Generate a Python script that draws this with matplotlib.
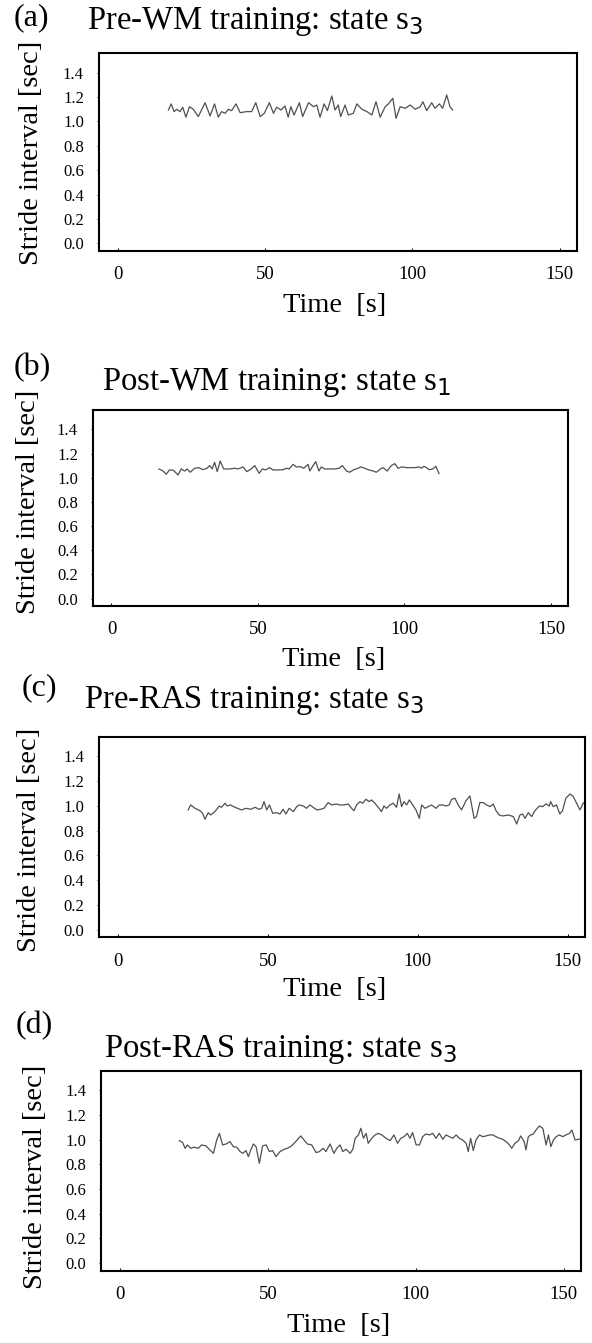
import matplotlib
matplotlib.use("Agg")
import matplotlib.pyplot as plt

plt.rcParams['font.family'] = ['Liberation Serif', 'DejaVu Serif']
plt.rcParams['mathtext.fontset'] = 'dejavusans'

# ---------------- data ----------------
panel_letters = ['(a)', '(b)', '(c)', '(d)']
panel_titles = ['Pre-WM training: state s$_3$',
                'Post-WM training: state s$_1$',
                'Pre-RAS training: state s$_3$',
                'Post-RAS training: state s$_3$']
x_ticks = [0, 50, 100, 150]
y_ticks = [0.0, 0.2, 0.4, 0.6, 0.8, 1.0, 1.2, 1.4]
x_label = 'Time  [s]'
y_label = 'Stride interval [sec]'

t_a = [17.25, 18.2, 19.2, 20.1, 21.2, 22.1, 23.2, 24.4, 25.7, 27.4, 29.7, 31.4, 32.9, 34.2,
       35.3, 36.5, 37.6, 38.7, 40.2, 41.6, 43.8, 45.5, 46.9, 48.4, 49.8, 51.5, 52.9, 54.0,
       55.5, 56.8, 57.9, 58.8, 59.9, 61.7, 62.8, 64.8, 66.5, 67.6, 68.7, 70.1, 71.2, 72.7,
       73.8, 74.9, 75.7, 77.2, 78.3, 80.0, 81.2, 82.9, 84.6, 86.3, 87.7, 89.1, 90.8, 91.9,
       93.4, 94.5, 95.9, 97.6, 99.3, 101.0, 102.7, 103.6, 104.9, 106.6, 107.7, 109.2, 110.3,
       111.7, 112.8, 113.7]
v_a = [1.093, 1.143, 1.080, 1.099, 1.080, 1.116, 1.034, 1.120, 1.099, 1.039, 1.153, 1.044,
       1.143, 1.034, 1.080, 1.066, 1.099, 1.088, 1.143, 1.071, 1.080, 1.080, 1.153, 1.039,
       1.066, 1.153, 1.066, 1.116, 1.093, 1.126, 1.034, 1.120, 1.052, 1.153, 1.039, 1.153,
       1.120, 1.134, 1.034, 1.143, 1.088, 1.208, 1.093, 1.134, 1.039, 1.134, 1.052, 1.066,
       1.143, 1.099, 1.080, 1.052, 1.161, 1.034, 1.120, 1.143, 1.189, 1.025, 1.120, 1.107,
       1.134, 1.099, 1.120, 1.161, 1.088, 1.153, 1.107, 1.143, 1.107, 1.216, 1.120, 1.093]

t_b = [16.2, 17.6, 18.7, 19.8, 21.2, 22.7, 23.8, 25.0, 25.8, 26.9, 28.4, 29.9, 31.2, 32.6,
       33.5, 34.4, 35.2, 36.1, 37.1, 38.3, 40.3, 42.0, 43.2, 44.9, 46.2, 47.7, 48.9, 50.4,
       51.5, 52.6, 54.0, 55.1, 56.8, 58.6, 59.7, 60.6, 62.0, 63.1, 64.5, 65.6, 67.1, 67.7,
       68.8, 69.7, 70.8, 71.6, 72.8, 74.5, 76.2, 77.7, 78.8, 80.2, 81.3, 82.7, 84.2, 85.0,
       85.9, 87.6, 89.3, 90.4, 91.8, 92.7, 94.1, 95.5, 96.7, 97.8, 99.0, 100.7, 103.5, 105.0,
       105.8, 106.6, 107.5, 108.4, 109.6, 110.7, 111.8]
v_b = [1.072, 1.055, 1.028, 1.064, 1.061, 1.022, 1.072, 1.055, 1.072, 1.045, 1.078, 1.083,
       1.066, 1.078, 1.100, 1.072, 1.127, 1.050, 1.138, 1.072, 1.072, 1.078, 1.072, 1.089,
       1.050, 1.072, 1.100, 1.036, 1.072, 1.064, 1.083, 1.064, 1.064, 1.066, 1.078, 1.072,
       1.110, 1.089, 1.091, 1.078, 1.110, 1.055, 1.100, 1.133, 1.055, 1.089, 1.072, 1.072,
       1.072, 1.078, 1.100, 1.055, 1.045, 1.066, 1.078, 1.089, 1.083, 1.066, 1.055, 1.045,
       1.072, 1.083, 1.055, 1.100, 1.116, 1.078, 1.089, 1.083, 1.083, 1.089, 1.078, 1.094,
       1.083, 1.066, 1.072, 1.094, 1.034]

t_c = [23.4, 24.2, 25.7, 27.3, 28.2, 29.0, 30.1, 30.9, 32.3, 33.8, 34.5, 35.7, 36.4, 37.6,
       38.5, 39.8, 41.2, 42.7, 44.2, 45.7, 47.1, 47.9, 48.7, 49.6, 50.5, 51.6, 52.9, 54.0,
       55.1, 56.0, 57.1, 58.5, 59.6, 60.5, 61.8, 62.9, 64.0, 65.1, 66.3, 67.6, 68.7, 70.1,
       71.3, 72.7, 74.0, 75.4, 76.8, 77.9, 78.7, 79.6, 80.7, 81.6, 82.7, 83.8, 84.6, 85.7,
       86.8, 87.9, 88.7, 89.6, 90.7, 91.8, 92.9, 93.8, 94.6, 95.4, 96.3, 97.2, 98.3, 99.4,
       100.5, 101.3, 102.4, 103.5, 104.6, 106.1, 107.2, 108.3, 109.4, 110.5, 111.3, 112.4,
       113.5, 114.6, 116.1, 117.4, 118.8, 119.6, 120.7, 121.9, 123.0, 124.1, 125.2, 126.1,
       127.2, 128.3, 130.2, 131.9, 133.0, 134.1, 135.0, 135.8, 136.9, 138.0, 139.1, 140.6,
       141.7, 142.8, 143.9, 144.3, 145.2, 146.3, 147.4, 148.3, 149.4, 150.8, 151.9, 153.0,
       154.1, 155.2, 155.8, 157.0]
v_c = [0.968, 1.008, 0.981, 0.962, 0.941, 0.892, 0.946, 0.927, 0.954, 1.000, 0.989, 1.022,
       1.000, 1.008, 0.995, 0.981, 0.968, 0.981, 0.973, 0.989, 0.973, 0.981, 1.035, 0.968,
       1.008, 0.941, 0.946, 0.935, 0.973, 0.935, 0.981, 0.954, 0.995, 1.008, 1.000, 0.981,
       1.008, 0.989, 0.968, 0.973, 0.981, 1.027, 1.008, 1.016, 1.008, 1.008, 1.016, 0.981,
       0.962, 1.008, 1.035, 1.022, 1.054, 1.035, 1.049, 1.022, 0.989, 0.954, 1.000, 0.981,
       1.008, 1.022, 0.989, 1.097, 0.995, 1.035, 1.008, 1.049, 1.008, 0.968, 0.900, 1.008,
       0.981, 0.995, 1.008, 0.981, 1.008, 1.008, 1.000, 1.008, 1.054, 1.062, 1.008, 0.968,
       1.043, 1.081, 0.900, 0.914, 1.027, 1.027, 1.008, 0.995, 1.016, 0.962, 0.927, 0.919,
       0.927, 0.914, 0.854, 0.927, 0.935, 0.900, 0.946, 0.914, 0.962, 1.000, 0.995, 1.016,
       1.000, 1.035, 0.995, 1.008, 0.935, 0.962, 1.062, 1.097, 1.076, 1.022, 0.968, 1.022,
       1.035, 1.000]

t_d = [20.1, 21.2, 22.0, 22.8, 23.9, 25.0, 26.5, 27.6, 29.1, 30.4, 31.6, 32.7, 33.6, 34.7,
       35.9, 37.2, 38.3, 39.5, 40.6, 41.5, 42.6, 43.4, 44.2, 45.1, 46.0, 47.1, 48.2, 49.4,
       50.5, 51.6, 52.7, 54.1, 55.5, 56.6, 58.0, 59.7, 61.1, 62.2, 63.3, 64.8, 66.3, 67.4,
       68.7, 69.6, 71.0, 72.3, 73.3, 74.4, 75.3, 76.4, 77.8, 78.7, 79.5, 80.6, 81.4, 82.3,
       83.2, 83.9, 85.1, 86.2, 87.3, 88.5, 89.9, 91.3, 92.6, 93.8, 94.9, 96.0, 97.1, 98.0,
       98.9, 100.1, 101.2, 102.3, 103.4, 104.6, 105.7, 106.8, 107.9, 109.1, 110.2, 111.3,
       112.5, 113.6, 114.7, 115.8, 117.0, 117.7, 118.5, 119.4, 120.3, 121.5, 122.6, 123.7,
       124.9, 126.0, 127.1, 128.2, 129.3, 130.5, 131.6, 132.4, 133.5, 134.7, 135.4, 136.6,
       137.2, 138.0, 138.8, 139.7, 140.6, 141.7, 142.9, 144.0, 144.8, 145.6, 146.5, 147.4,
       148.5, 149.6, 150.7, 151.9, 152.7, 153.8, 154.9, 156.0]
v_d = [0.993, 0.977, 0.931, 0.958, 0.931, 0.939, 0.931, 0.958, 0.950, 0.917, 0.890, 0.998,
       1.052, 0.958, 0.966, 0.985, 0.944, 0.939, 0.904, 0.890, 0.912, 0.863, 0.917, 0.966,
       0.944, 0.809, 0.950, 0.958, 0.904, 0.912, 0.863, 0.904, 0.923, 0.931, 0.950, 0.993,
       1.031, 0.998, 0.966, 0.958, 0.896, 0.904, 0.931, 0.904, 0.966, 0.890, 0.931, 0.958,
       0.904, 0.923, 0.890, 0.923, 1.012, 1.039, 1.093, 1.012, 1.052, 0.971, 1.012, 1.039,
       1.052, 1.039, 1.012, 0.993, 1.039, 0.971, 1.012, 1.025, 1.052, 1.012, 1.058, 0.958,
       0.958, 1.025, 1.047, 1.039, 1.052, 1.012, 1.052, 1.004, 1.039, 1.025, 1.012, 1.039,
       1.012, 0.998, 0.971, 0.904, 1.012, 0.912, 0.998, 1.039, 1.025, 1.031, 1.039, 1.039,
       1.025, 1.012, 1.004, 0.985, 0.958, 0.931, 0.971, 0.993, 1.031, 0.985, 0.917, 1.025,
       1.039, 1.047, 1.079, 1.112, 1.093, 0.958, 1.039, 0.944, 0.998, 1.025, 1.039, 1.025,
       1.039, 1.052, 1.079, 0.998, 1.004, 1.004]

series_t = [t_a, t_b, t_c, t_d]
series_v = [v_a, v_b, v_c, v_d]

# ---------------- layout (pixels) ----------------
W, H, DPI = 592, 1343, 100
axes_px = [(98.7, 53, 576.7, 251),
           (92.7, 410, 568, 606),
           (98.9, 736.7, 585, 937.3),
           (101, 1070.7, 581, 1270.7)]
letter_px = [(14, 25), (14, 375), (22, 695), (16, 1033)]
title_px = [(87, 29), (102, 390), (84, 708), (104, 1057)]
xlabel_px = [(335, 305), (334, 660), (335, 989), (339, 1325)]
ylabel_px = [(32, 153), (29, 502), (30, 840), (36, 1177)]

fig = plt.figure(figsize=(W / DPI, H / DPI), dpi=DPI)
fig.patch.set_facecolor('white')


def fx(x):
    return x / W


def fy(y):
    return 1 - y / H


for i in range(4):
    l, t, r, b = axes_px[i]
    ax = fig.add_axes([fx(l), fy(b), (r - l) / W, (b - t) / H])
    ax.plot(series_t[i], series_v[i], color='#505050', lw=0.9)
    ax.set_xlim(-6.4, 155.8)
    ax.set_ylim(-0.062, 1.56)
    ax.set_xticks(x_ticks)
    ax.set_yticks(y_ticks)
    ax.set_yticklabels([f'{v:.1f}' for v in y_ticks])
    for s in ax.spines.values():
        s.set_linewidth(1.5)
        s.set_color('black')
    ax.tick_params(axis='x', direction='in', length=2.5, width=0.7,
                   labelsize=13.5, pad=11)
    ax.tick_params(axis='y', direction='out', length=1.8, width=0.7,
                   labelsize=12, pad=8.8)
    # axis labels
    lx, ly = xlabel_px[i]
    ax.set_xlabel(x_label, fontsize=20.5, va='center', ha='center')
    ax.xaxis.set_label_coords((lx - l) / (r - l), (b - ly) / (b - t))
    yx, yy = ylabel_px[i]
    ax.set_ylabel(y_label, fontsize=20.5, va='center', ha='center')
    ax.yaxis.set_label_coords((yx - l) / (r - l), (b - yy) / (b - t))
    # panel letter and title
    px, py = letter_px[i]
    fig.text(fx(px), fy(py), panel_letters[i], fontsize=23, va='baseline', ha='left')
    tx, ty = title_px[i]
    fig.text(fx(tx), fy(ty), panel_titles[i], fontsize=23.5, va='baseline', ha='left')

fig.savefig('out.png', dpi=DPI, facecolor='white')
